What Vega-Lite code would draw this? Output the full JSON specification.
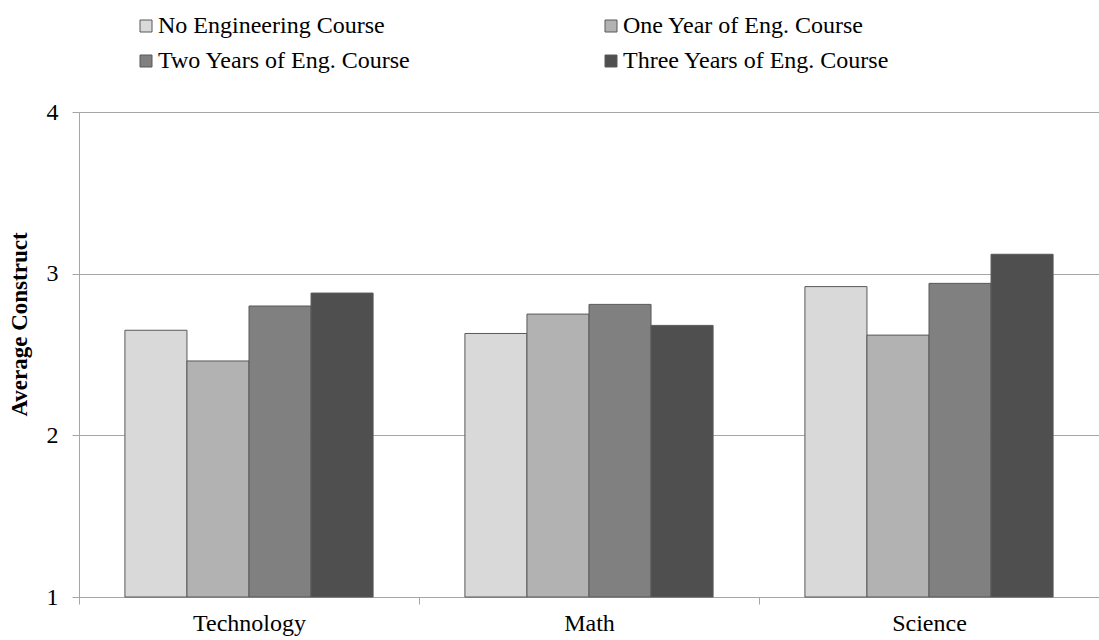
{
  "$schema": "https://vega.github.io/schema/vega-lite/v6.json",
  "width": 1020,
  "height": 485,
  "autosize": "none",
  "padding": {"left": 79, "top": 112, "right": 0, "bottom": 43},
  "background": "white",
  "config": {
    "view": {"stroke": null},
    "font": "Liberation Serif"
  },
  "data": {
    "values": [
      {"subject": "Technology", "group": "No Engineering Course", "value": 2.65},
      {"subject": "Technology", "group": "One Year of Eng. Course", "value": 2.46},
      {"subject": "Technology", "group": "Two Years of Eng. Course", "value": 2.80},
      {"subject": "Technology", "group": "Three Years of Eng. Course", "value": 2.88},
      {"subject": "Math", "group": "No Engineering Course", "value": 2.63},
      {"subject": "Math", "group": "One Year of Eng. Course", "value": 2.75},
      {"subject": "Math", "group": "Two Years of Eng. Course", "value": 2.81},
      {"subject": "Math", "group": "Three Years of Eng. Course", "value": 2.68},
      {"subject": "Science", "group": "No Engineering Course", "value": 2.92},
      {"subject": "Science", "group": "One Year of Eng. Course", "value": 2.62},
      {"subject": "Science", "group": "Two Years of Eng. Course", "value": 2.94},
      {"subject": "Science", "group": "Three Years of Eng. Course", "value": 3.12}
    ]
  },
  "mark": {"type": "bar", "stroke": "#595959", "strokeWidth": 1},
  "encoding": {
    "x": {
      "field": "subject",
      "type": "nominal",
      "sort": ["Technology", "Math", "Science"],
      "scale": {"paddingInner": 0, "paddingOuter": 0},
      "axis": {
        "title": null,
        "labelAngle": 0,
        "labelFontSize": 24,
        "labelColor": "#000000",
        "labelFont": "Liberation Serif",
        "labelPadding": 7,
        "tickBand": "extent",
        "tickSize": 7,
        "tickColor": "#a6a6a6",
        "domainColor": "#a6a6a6",
        "grid": false
      }
    },
    "xOffset": {
      "field": "group",
      "type": "nominal",
      "sort": ["No Engineering Course", "One Year of Eng. Course", "Two Years of Eng. Course", "Three Years of Eng. Course"],
      "scale": {"paddingInner": 0, "paddingOuter": 0.74}
    },
    "y": {
      "field": "value",
      "type": "quantitative",
      "scale": {"domain": [1, 4], "zero": false, "nice": false},
      "axis": {
        "title": "Average Construct",
        "titleFont": "Liberation Serif",
        "titleFontSize": 23,
        "titleFontWeight": "bold",
        "titleColor": "#000000",
        "titlePadding": 15,
        "titleY": 212,
        "values": [1, 2, 3, 4],
        "labelFontSize": 24,
        "labelColor": "#000000",
        "labelFont": "Liberation Serif",
        "labelPadding": 14,
        "tickSize": 7,
        "tickColor": "#a6a6a6",
        "domainColor": "#a6a6a6",
        "gridColor": "#a6a6a6",
        "gridWidth": 1
      }
    },
    "y2": {"datum": 1},
    "color": {
      "field": "group",
      "type": "nominal",
      "sort": ["No Engineering Course", "One Year of Eng. Course", "Two Years of Eng. Course", "Three Years of Eng. Course"],
      "scale": {"range": ["#d9d9d9", "#b2b2b2", "#808080", "#4f4f4f"]},
      "legend": {
        "title": null,
        "orient": "none",
        "legendX": 55,
        "legendY": -98,
        "direction": "horizontal",
        "columns": 2,
        "columnPadding": 188,
        "rowPadding": 11,
        "symbolType": "square",
        "symbolSize": 144,
        "symbolStrokeColor": "#595959",
        "symbolStrokeWidth": 1,
        "symbolOpacity": 1,
        "labelFont": "Liberation Serif",
        "labelFontSize": 24,
        "labelColor": "#000000",
        "labelOffset": 0,
        "labelLimit": 400
      }
    }
  }
}
